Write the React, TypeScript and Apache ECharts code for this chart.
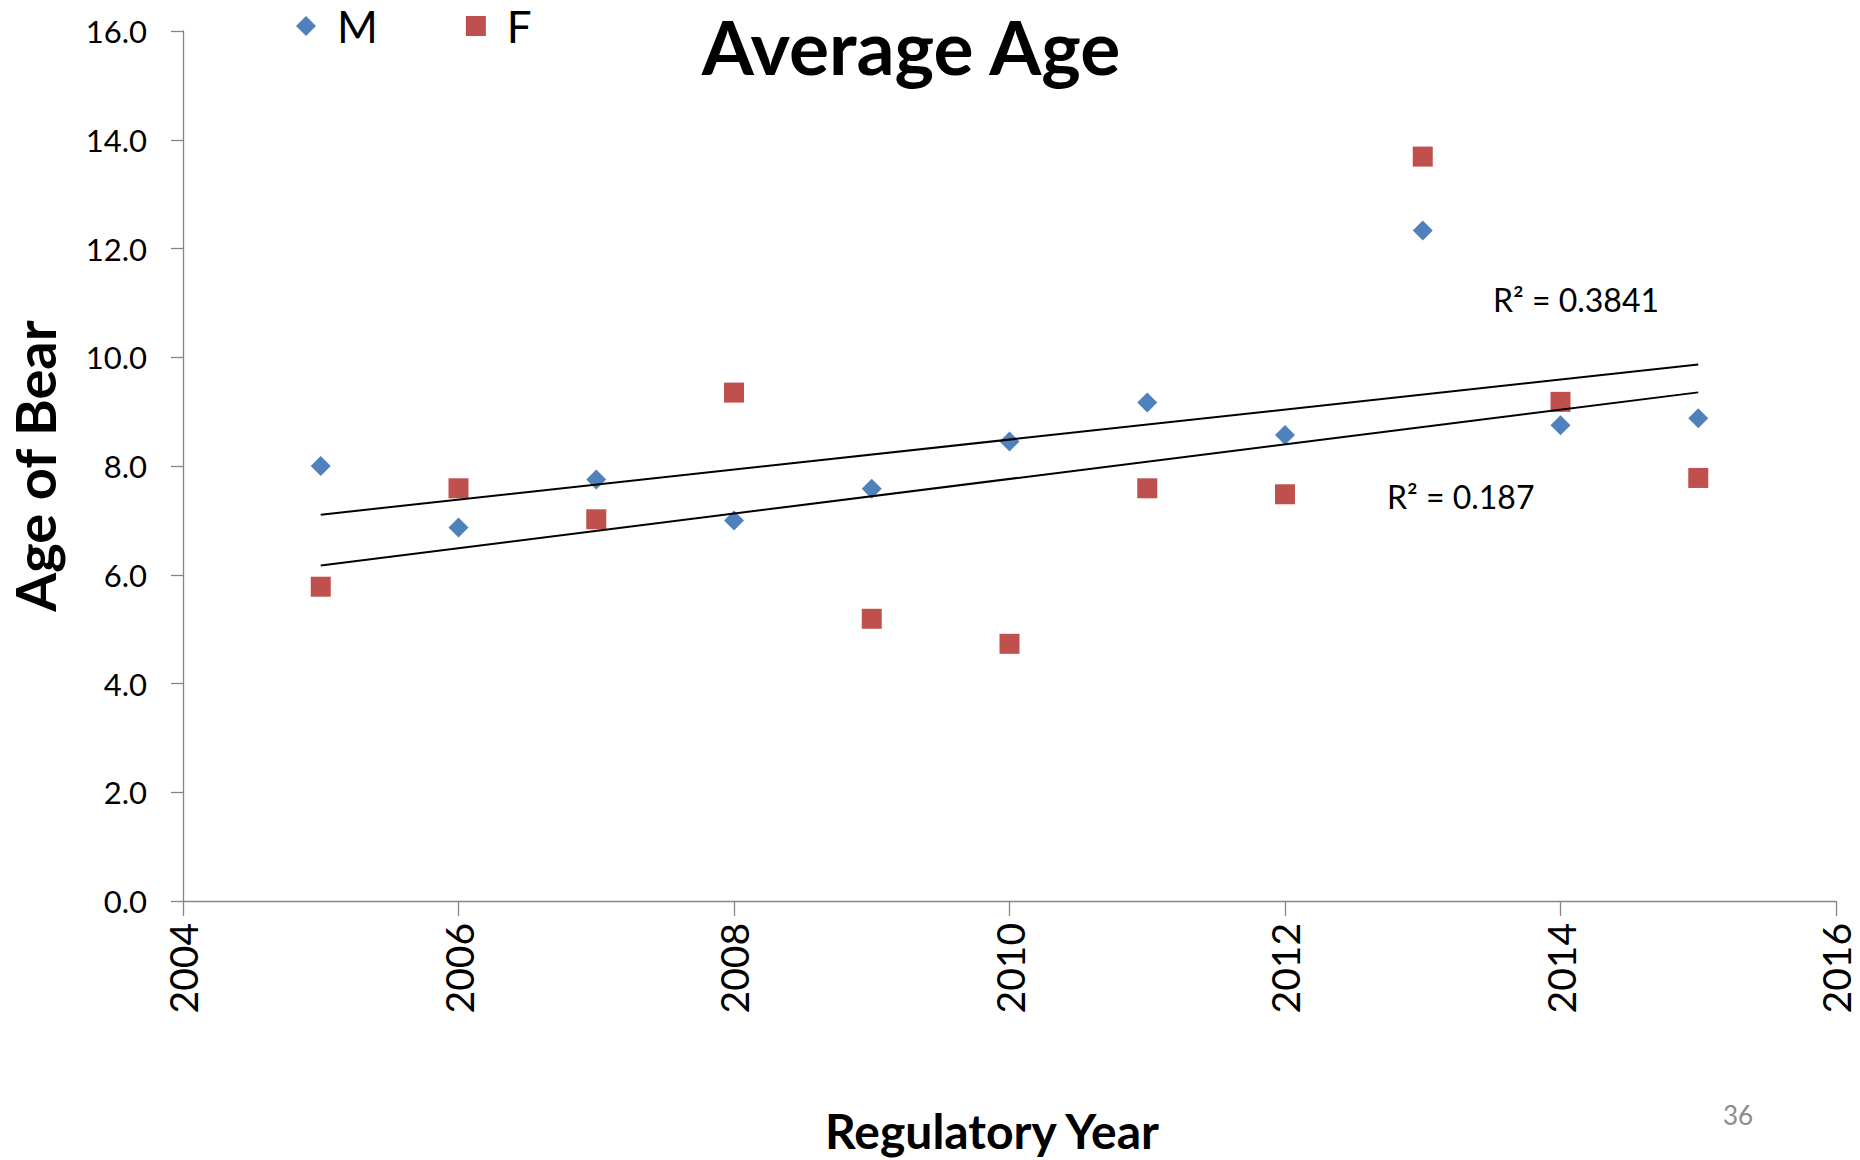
import React, { useEffect, useRef } from "react";
import * as echarts from "echarts";

const years = [2005, 2006, 2007, 2008, 2009, 2010, 2011, 2012, 2013, 2014, 2015];
const maleAge = [8.0, 6.87, 7.75, 7.0, 7.58, 8.45, 9.17, 8.57, 12.33, 8.75, 8.88];
const femaleAge = [5.78, 7.59, 7.02, 9.35, 5.19, 4.73, 7.59, 7.48, 13.69, 9.18, 7.78];
const seriesNames = ["M", "F"];
const rSquaredLabels = ["R\u00B2 = 0.3841", "R\u00B2 = 0.187"];
const chartTitle = "Average Age";
const xAxisTitle = "Regulatory Year";
const yAxisTitle = "Age of Bear";
const pageNumber = "36";

const FONT = "Lato, 'Open Sans', sans-serif";
const AXIS_GRAY = "#868686";

function trendLine(xs: number[], ys: number[]): number[][] {
  const n = xs.length;
  const mx = xs.reduce((a, b) => a + b, 0) / n;
  const my = ys.reduce((a, b) => a + b, 0) / n;
  let sxy = 0;
  let sxx = 0;
  for (let i = 0; i < n; i++) {
    sxy += (xs[i] - mx) * (ys[i] - my);
    sxx += (xs[i] - mx) * (xs[i] - mx);
  }
  const slope = sxy / sxx;
  const icpt = my - slope * mx;
  return [
    [xs[0], icpt + slope * xs[0]],
    [xs[n - 1], icpt + slope * xs[n - 1]],
  ];
}

export default function App() {
  const ref = useRef<HTMLDivElement>(null);
  useEffect(() => {
    document.body.style.margin = "0";
    document.body.style.overflow = "hidden";
    const chart = echarts.init(ref.current as HTMLDivElement, null, { renderer: "svg" });
    chart.setOption({
      animation: false,
      backgroundColor: "#ffffff",
      textStyle: { fontFamily: FONT },
      grid: { left: 183, right: 24, top: 31, bottom: 259, containLabel: false },
      legend: {
        data: seriesNames,
        left: 296,
        top: 4,
        padding: 0,
        itemWidth: 20,
        itemHeight: 20,
        itemGap: 88,
        textStyle: { fontSize: 44, color: "#000", fontFamily: FONT, padding: [0, 0, 0, 16] },
      },
      xAxis: {
        type: "value",
        min: 2004,
        max: 2016,
        interval: 2,
        axisLine: { show: true, lineStyle: { color: AXIS_GRAY, width: 1.3 } },
        axisTick: { show: true, length: 15, lineStyle: { color: AXIS_GRAY, width: 1.3 } },
        axisLabel: {
          rotate: 90,
          margin: 22,
          fontSize: 39,
          lineHeight: 39,
          color: "#000",
          fontFamily: FONT,
          formatter: (v: number) => String(v),
        },
        splitLine: { show: false },
      },
      yAxis: {
        type: "value",
        min: 0,
        max: 16,
        interval: 2,
        axisLine: { show: true, lineStyle: { color: AXIS_GRAY, width: 1.3 } },
        axisTick: { show: true, length: 12, lineStyle: { color: AXIS_GRAY, width: 1.3 } },
        axisLabel: {
          margin: 36,
          fontSize: 31,
          color: "#000",
          fontFamily: FONT,
          formatter: (v: number) => v.toFixed(1),
        },
        splitLine: { show: false },
      },
      series: [
        {
          name: seriesNames[0],
          type: "scatter",
          symbol: "diamond",
          symbolSize: 20,
          itemStyle: { color: "#4F81BD", opacity: 1 },
          data: years.map((y, i) => [y, maleAge[i]]),
        },
        {
          name: seriesNames[1],
          type: "scatter",
          symbol: "rect",
          symbolSize: 20,
          itemStyle: { color: "#C0504D", opacity: 1 },
          data: years.map((y, i) => [y, femaleAge[i]]),
        },
        {
          name: "Linear (M)",
          type: "line",
          z: 3,
          symbol: "none",
          silent: true,
          lineStyle: { color: "#000", width: 2 },
          data: trendLine(years, maleAge),
        },
        {
          name: "Linear (F)",
          type: "line",
          z: 3,
          symbol: "none",
          silent: true,
          lineStyle: { color: "#000", width: 2 },
          data: trendLine(years, femaleAge),
        },
      ],
      graphic: [
        {
          type: "text",
          x: 911,
          y: 46,
          style: {
            text: chartTitle,
            fontSize: 75,
            fontWeight: "bold",
            fontFamily: FONT,
            fill: "#000",
            align: "center",
            verticalAlign: "middle",
          },
        },
        {
          type: "text",
          x: 34,
          y: 466,
          rotation: Math.PI / 2,
          style: {
            text: yAxisTitle,
            fontSize: 56,
            fontWeight: "bold",
            fontFamily: FONT,
            fill: "#000",
            align: "center",
            verticalAlign: "middle",
          },
        },
        {
          type: "text",
          x: 992,
          y: 1130,
          style: {
            text: xAxisTitle,
            fontSize: 48,
            fontWeight: "bold",
            fontFamily: FONT,
            fill: "#000",
            align: "center",
            verticalAlign: "middle",
          },
        },
        {
          type: "text",
          x: 1493,
          y: 299,
          style: {
            text: rSquaredLabels[0],
            fontSize: 32,
            fontFamily: FONT,
            fill: "#000",
            align: "left",
            verticalAlign: "middle",
          },
        },
        {
          type: "text",
          x: 1387,
          y: 496,
          style: {
            text: rSquaredLabels[1],
            fontSize: 32,
            fontFamily: FONT,
            fill: "#000",
            align: "left",
            verticalAlign: "middle",
          },
        },
        {
          type: "text",
          x: 1738,
          y: 1115,
          style: {
            text: pageNumber,
            fontSize: 26,
            fontFamily: FONT,
            fill: "#8c8c8c",
            align: "center",
            verticalAlign: "middle",
          },
        },
      ],
    });
    return () => chart.dispose();
  }, []);
  return <div ref={ref} style={{ width: 1860, height: 1160 }} />;
}
